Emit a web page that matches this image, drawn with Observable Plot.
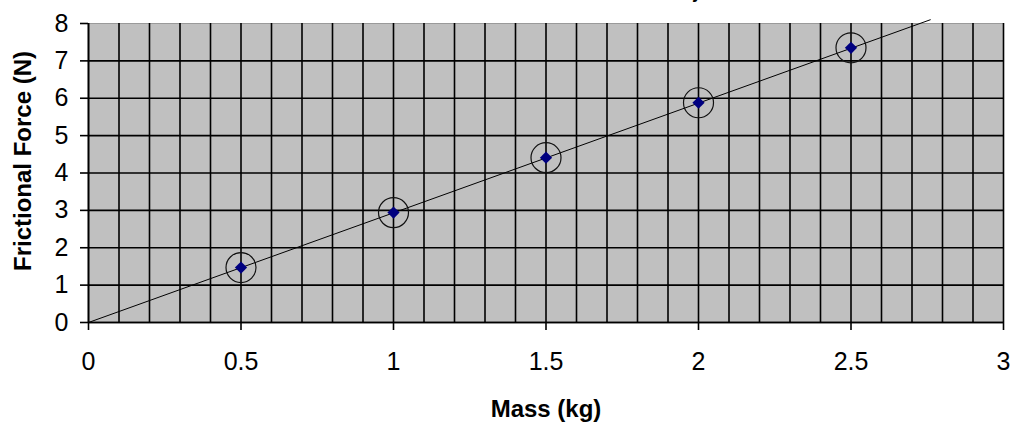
<!DOCTYPE html>
<html>
<head>
<meta charset="utf-8">
<script src="https://cdn.jsdelivr.net/npm/d3@7"></script>
<script src="https://cdn.jsdelivr.net/npm/@observablehq/plot@0.6"></script>
<style>
  html, body { margin: 0; padding: 0; background: #fff; overflow: hidden; }
  #wrap { position: relative; width: 1013px; height: 425px; }
  #title { position: absolute; left: 0; width: 1013px; top: -19px; text-align: center;
           font: bold 19px "Liberation Sans", Arial, sans-serif; line-height: 22px; color: #000; padding-left: 64px; box-sizing: border-box; }
  svg { display: block; }
</style>
</head>
<body>
<div id="wrap">
  <div id="title">Surface for Differentmasses of the Object</div>
  <div id="chart"></div>
</div>
<script>
const masses = [0.5, 1, 1.5, 2, 2.5];
const forces = [1.47, 2.94, 4.41, 5.88, 7.35];
const trendMass = [0, 2.76];
const trendForce = [0, 8.1];
const xTicks = [0, 0.5, 1, 1.5, 2, 2.5, 3];
const yTicks = [0, 1, 2, 3, 4, 5, 6, 7, 8];
const xLabel = "Mass (kg)";
const yLabel = "Frictional Force (N)";

const points = masses.map((m, i) => ({mass: m, force: forces[i]}));
const trend = trendMass.map((m, i) => ({mass: m, force: trendForce[i]}));

const font = "'Liberation Sans', Arial, sans-serif";

const chart = Plot.plot({
  width: 1013,
  height: 425,
  marginLeft: 88,
  marginRight: 10,
  marginTop: 23,
  marginBottom: 103,
  style: {fontFamily: font, background: "#fff", color: "#000"},
  x: {domain: [0, 3]},
  y: {domain: [0, 8]},
  marks: [
    Plot.frame({fill: "#c0c0c0", stroke: "#9a9a9a"}),
    Plot.gridX({ticks: 30, stroke: "#000", strokeOpacity: 1, strokeWidth: 1.6}),
    Plot.gridY(yTicks.filter(v => v < 8), {stroke: "#000", strokeOpacity: 1, strokeWidth: 1.6}),
    Plot.ruleX([0], {stroke: "#000", strokeWidth: 1.6}),
    Plot.ruleY([0], {stroke: "#000", strokeWidth: 1.6}),
    Plot.axisX({ticks: xTicks, tickSize: 8, tickPadding: 22, tickFormat: d => String(d),
      fontSize: 25, label: null, stroke: "#000", strokeWidth: 1.6}),
    Plot.axisY({ticks: yTicks, tickSize: 8, tickPadding: 12, tickFormat: d => String(d),
      fontSize: 25, label: null, stroke: "#000", strokeWidth: 1.6}),
    Plot.line(trend, {x: "mass", y: "force", stroke: "#000", strokeWidth: 1, clip: false}),
    Plot.dot(points, {x: "mass", y: "force", r: 15, stroke: "#111", strokeWidth: 1.2, fill: "none"}),
    Plot.dot(points, {x: "mass", y: "force", symbol: "diamond2", r: 5.5, fill: "#000080", stroke: "none"}),
    Plot.text([xLabel], {frameAnchor: "bottom", text: d => d, dy: 87, fontSize: 24, fontWeight: "bold",
      textAnchor: "middle", lineAnchor: "middle", fill: "#000"}),
    Plot.text([yLabel], {frameAnchor: "left", text: d => d, rotate: -90, dx: -65, dy: -12, fontSize: 24,
      fontWeight: "bold", textAnchor: "middle", lineAnchor: "middle", fill: "#000"})
  ]
});
document.getElementById("chart").appendChild(chart);
</script>
</body>
</html>
